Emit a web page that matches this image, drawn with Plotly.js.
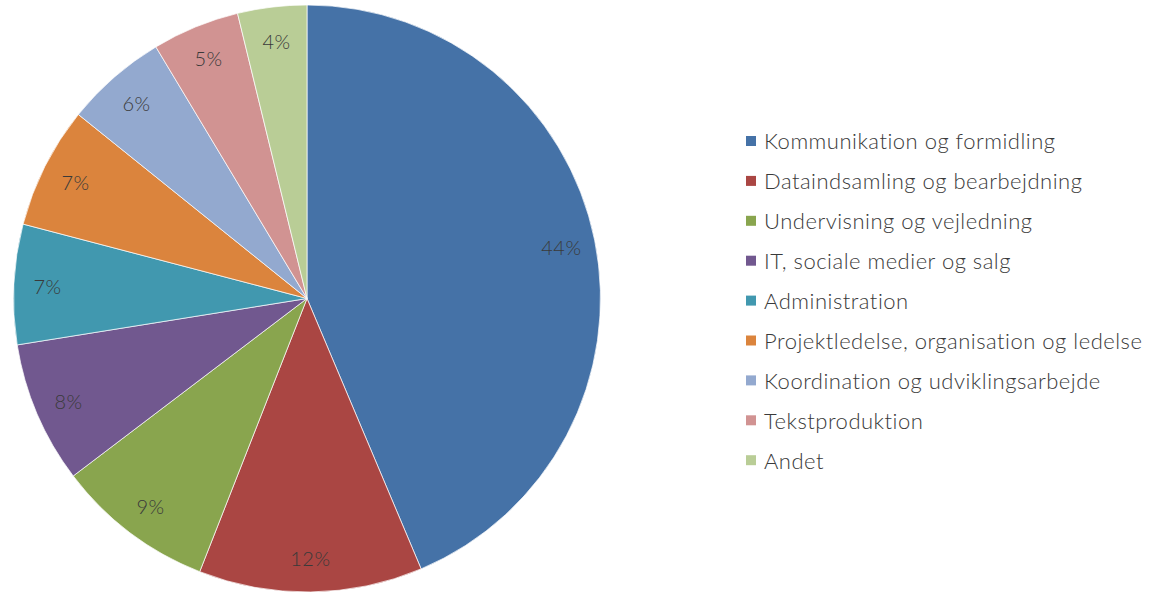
<!DOCTYPE html>
<html>
<head>
<meta charset="utf-8">
<script src="https://cdn.plot.ly/plotly-3.0.1.min.js"></script>
<style>
html,body{margin:0;padding:0;background:#fff;}
#chart{width:1151px;height:592px;}
#chart .annotation-text{letter-spacing:0.5px;}
</style>
</head>
<body>
<div id="chart"></div>
<script>
const labels = [
  "Kommunikation og formidling",
  "Dataindsamling og bearbejdning",
  "Undervisning og vejledning",
  "IT, sociale medier og salg",
  "Administration",
  "Projektledelse, organisation og ledelse",
  "Koordination og udviklingsarbejde",
  "Tekstproduktion",
  "Andet"
];
const values = [43.6, 12.3, 8.7, 7.8, 6.6, 6.7, 5.6, 4.8, 3.8];
const colors = ["#4572A7", "#AA4643", "#89A54E", "#71588F", "#4198AF", "#DB843D", "#93A9CF", "#D19392", "#B9CD96"];

const W = 1151, H = 592;
const mT = 5, mB = 0;
const plotH = H - mT - mB;
const cx = 307, r = Math.min(614, plotH) / 2, cy = mT + r;
const FONT = "Lato, 'Open Sans', sans-serif";
const TXT = "#3a3a3a";

const total = values.reduce((a, b) => a + b, 0);
const annotations = [];
let cum = 0;
values.forEach((v, i) => {
  const mid = (cum + v / 2) / total * 2 * Math.PI;
  cum += v;
  const px = cx + 0.885 * r * Math.sin(mid);
  const py = cy - 0.885 * r * Math.cos(mid);
  annotations.push({
    xref: "paper", yref: "paper",
    x: px / W, y: (H - mB - py) / plotH,
    text: Math.round(v / total * 100) + "%",
    showarrow: false, xanchor: "center", yanchor: "middle",
    font: {family: FONT, size: 20, color: TXT, weight: 300}
  });
});

const shapes = [];
const legTop = 141, legStep = 39.9;
labels.forEach((lab, i) => {
  const yc = legTop + i * legStep;
  shapes.push({
    type: "rect", xref: "paper", yref: "paper",
    x0: 746 / W, x1: 756 / W,
    y0: (H - mB - (yc - 5)) / plotH, y1: (H - mB - (yc + 5)) / plotH,
    fillcolor: colors[i], line: {width: 0}
  });
  annotations.push({
    xref: "paper", yref: "paper",
    x: 762 / W, y: (H - mB - yc) / plotH,
    text: lab, showarrow: false, xanchor: "left", yanchor: "middle", align: "left",
    font: {family: FONT, size: 22, color: TXT, weight: 300}
  });
});

const trace = {
  type: "pie",
  labels: labels,
  values: values,
  sort: false,
  direction: "clockwise",
  rotation: 0,
  textinfo: "none",
  hoverinfo: "label+percent",
  marker: {colors: colors, line: {color: "rgba(255,255,255,0.7)", width: 1}},
  domain: {x: [0, 614 / W], y: [0, 1]},
  showlegend: false
};

const layout = {
  width: W, height: H,
  margin: {l: 0, r: 0, t: mT, b: mB, pad: 0},
  paper_bgcolor: "#fff",
  plot_bgcolor: "#fff",
  showlegend: false,
  annotations: annotations,
  shapes: shapes
};

Plotly.newPlot("chart", [trace], layout, {displayModeBar: false, staticPlot: true});
</script>
</body>
</html>
